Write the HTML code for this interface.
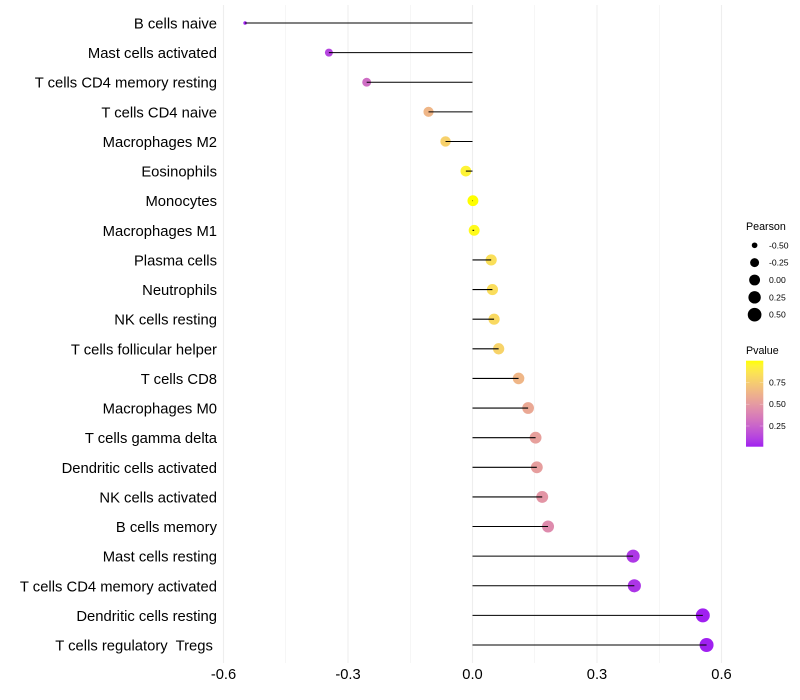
<!DOCTYPE html>
<html lang="en">
<head>
<meta charset="utf-8">
<title>Immune cell correlation lollipop chart</title>
<style>
  html, body { margin: 0; padding: 0; background: #fff; }
  body { width: 800px; height: 700px; overflow: hidden; }
  svg { display: block; font-family: "Liberation Sans", Arial, sans-serif; }
</style>
</head>
<body>
<svg id="chart" width="800" height="700" viewBox="0 0 800 700" xmlns="http://www.w3.org/2000/svg">
  <defs>
    <linearGradient id="pvalue-gradient" x1="0" y1="1" x2="0" y2="0"></linearGradient>
  </defs>
  <g id="grid"></g>
  <g id="marks"></g>
  <g id="y-axis"></g>
  <g id="x-axis"></g>
  <g id="size-legend"></g>
  <g id="color-legend"></g>
</svg>
<script>
const categories = ["B cells naive", "Mast cells activated", "T cells CD4 memory resting", "T cells CD4 naive", "Macrophages M2", "Eosinophils", "Monocytes", "Macrophages M1", "Plasma cells", "Neutrophils", "NK cells resting", "T cells follicular helper", "T cells CD8", "Macrophages M0", "T cells gamma delta", "Dendritic cells activated", "NK cells activated", "B cells memory", "Mast cells resting", "T cells CD4 memory activated", "Dendritic cells resting", "T cells regulatory  Tregs "];
const pearsonValues = [-0.548, -0.346, -0.255, -0.106, -0.065, -0.016, 0.001, 0.004, 0.045, 0.048, 0.052, 0.063, 0.111, 0.134, 0.152, 0.155, 0.168, 0.182, 0.387, 0.390, 0.555, 0.564];
const pValues = [0.01, 0.12, 0.29, 0.64, 0.77, 0.94, 0.998, 0.98, 0.84, 0.83, 0.81, 0.78, 0.64, 0.57, 0.53, 0.52, 0.48, 0.43, 0.08, 0.07, 0.013, 0.013];
const xTickValues = [-0.6, -0.3, 0.0, 0.3, 0.6];
const xMinorValues = [-0.45, -0.15, 0.15, 0.45];
const sizeLegendValues = [-0.50, -0.25, 0.00, 0.25, 0.50];
const colorLegendValues = [0.25, 0.50, 0.75];

const svg = document.getElementById('chart');
const NS = 'http://www.w3.org/2000/svg';
const xScale = v => 472.5 + v * 415;
const yScale = i => 23 + i * (622 / 21);
const pMin = 0.013, pMax = 0.998;
const pScale = p => 446.7 - (p - pMin) / (pMax - pMin) * 86;
const pearsonMin = Math.min(...pearsonValues), pearsonMax = Math.max(...pearsonValues);
const diameter = v => 3.5 + 10.5 * Math.sqrt(Math.max(0, (v - pearsonMin) / (pearsonMax - pearsonMin)));

function toLab(c) {
  const lin = c.map(u => { u /= 255; return u <= 0.04045 ? u / 12.92 : Math.pow((u + 0.055) / 1.055, 2.4); });
  const X = (0.4124 * lin[0] + 0.3576 * lin[1] + 0.1805 * lin[2]) / 0.95047;
  const Y = 0.2126 * lin[0] + 0.7152 * lin[1] + 0.0722 * lin[2];
  const Z = (0.0193 * lin[0] + 0.1192 * lin[1] + 0.9505 * lin[2]) / 1.08883;
  const f = t => t > 0.008856 ? Math.cbrt(t) : 7.787 * t + 16 / 116;
  return [116 * f(Y) - 16, 500 * (f(X) - f(Y)), 200 * (f(Y) - f(Z))];
}
function fromLab(l) {
  const fy = (l[0] + 16) / 116, fx = l[1] / 500 + fy, fz = fy - l[2] / 200;
  const g = t => t * t * t > 0.008856 ? t * t * t : (t - 16 / 116) / 7.787;
  const X = g(fx) * 0.95047, Y = g(fy), Z = g(fz) * 1.08883;
  const lin = [3.2406 * X - 1.5372 * Y - 0.4986 * Z, -0.9689 * X + 1.8758 * Y + 0.0415 * Z, 0.0557 * X - 0.2040 * Y + 1.0570 * Z];
  const out = lin.map(u => {
    u = Math.max(0, Math.min(1, u));
    return Math.round(255 * (u <= 0.0031308 ? 12.92 * u : 1.055 * Math.pow(u, 1 / 2.4) - 0.055));
  });
  return 'rgb(' + out.join(',') + ')';
}
const labLow = toLab([160, 32, 240]), labHigh = toLab([255, 255, 0]);
function colorAt(t) {
  t = Math.max(0, Math.min(1, t));
  return fromLab(labLow.map((a, i) => a + (labHigh[i] - a) * t));
}
const pColor = p => colorAt((p - pMin) / (pMax - pMin));

function make(tag, attrs, parent, text) {
  const el = document.createElementNS(NS, tag);
  Object.keys(attrs).forEach(k => el.setAttribute(k, attrs[k]));
  if (text !== undefined) el.textContent = text;
  parent.appendChild(el);
  return el;
}

/* grid */
const grid = document.getElementById('grid');
xMinorValues.forEach(v => {
  const el = make('line', { x1: xScale(v), x2: xScale(v), y1: 5, y2: 663, stroke: '#eeeeee', 'stroke-width': 0.55 }, grid);
  
  
});
xTickValues.forEach(v => {
  const el = make('line', { x1: xScale(v), x2: xScale(v), y1: 5, y2: 663, stroke: '#eeeeee', 'stroke-width': 1.07 }, grid);
  
  
});

/* marks: points first, segments on top */
const marks = document.getElementById('marks');
categories.forEach((name, i) => {
  const point = make('circle', { cx: xScale(pearsonValues[i]), cy: yScale(i), r: diameter(pearsonValues[i]) / 2, fill: pColor(pValues[i]) }, marks);
  
  
  const stem = make('line', { x1: xScale(0), x2: xScale(pearsonValues[i]), y1: yScale(i), y2: yScale(i), stroke: '#000', 'stroke-width': 1.07 }, marks);
  
  
});

/* y axis labels */
const yAxis = document.getElementById('y-axis');
categories.forEach((name, i) => {
  const el = make('text', { x: 217, y: yScale(i) + 5.5, 'text-anchor': 'end', 'font-size': 14.8, fill: '#000', style: 'white-space:pre' }, yAxis, name);
  
  
});

/* x axis labels */
const xAxis = document.getElementById('x-axis');
xTickValues.forEach(v => {
  const el = make('text', { x: xScale(v), y: 679, 'text-anchor': 'middle', 'font-size': 14.7, fill: '#000' }, xAxis, v.toFixed(1));
  
  
});

/* Pearson size legend */
const sizeLegend = document.getElementById('size-legend');
const sizeTitle = make('text', { x: 746, y: 230, 'font-size': 10.7, fill: '#000' }, sizeLegend, 'Pearson');


sizeLegendValues.forEach((v, i) => {
  const cy = 245.3 + i * 17.35;
  const dot = make('circle', { cx: 754.6, cy: cy, r: diameter(v) / 2, fill: '#000' }, sizeLegend);
  
  
  const label = make('text', { x: 769, y: cy + 3, 'font-size': 8.6, fill: '#000' }, sizeLegend, v.toFixed(2));
  
  
});

/* Pvalue colour legend */
const gradient = document.getElementById('pvalue-gradient');
for (let s = 0; s <= 20; s++) {
  make('stop', { offset: (s / 20 * 100) + '%', 'stop-color': colorAt(s / 20) }, gradient);
}
const colorLegend = document.getElementById('color-legend');
const colorTitle = make('text', { x: 746, y: 354, 'font-size': 10.7, fill: '#000' }, colorLegend, 'Pvalue');


const colorBar = make('rect', { x: 746, y: 360.7, width: 17.3, height: 86, fill: 'url(#pvalue-gradient)' }, colorLegend);


colorLegendValues.forEach(v => {
  const y = pScale(v);
  const tickLeft = make('line', { x1: 746, x2: 749.5, y1: y, y2: y, stroke: '#fff', 'stroke-width': 0.4, 'stroke-opacity': 0.7 }, colorLegend);
  
  
  const tickRight = make('line', { x1: 759.8, x2: 763.3, y1: y, y2: y, stroke: '#fff', 'stroke-width': 0.4, 'stroke-opacity': 0.7 }, colorLegend);
  
  
  const label = make('text', { x: 769, y: y + 3, 'font-size': 8.6, fill: '#000' }, colorLegend, v.toFixed(2));
  
  
});
</script>
</body>
</html>
